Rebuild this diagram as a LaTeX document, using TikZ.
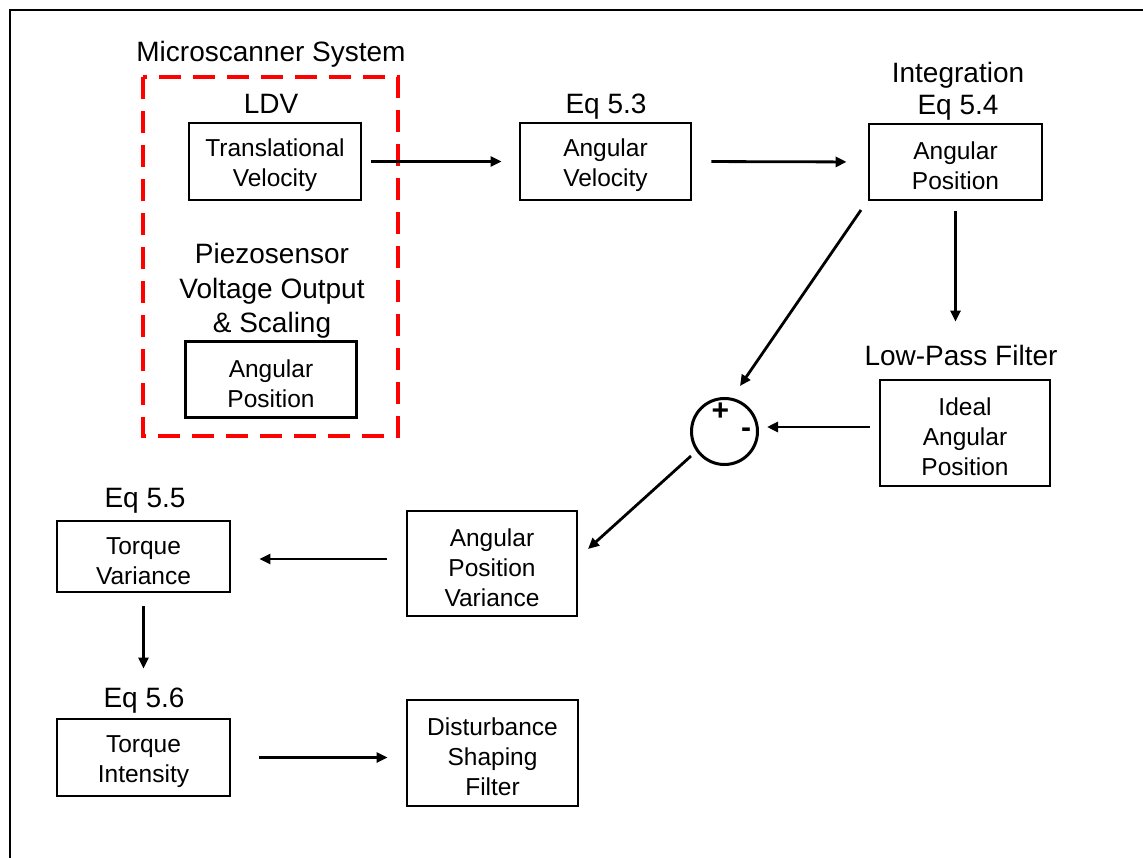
\documentclass[tikz,border=0pt]{standalone}
\usepackage{fontspec}
\setmainfont{Liberation Sans}
\usetikzlibrary{arrows.meta}
\newcommand\bst{\rule{0pt}{26pt}}
\begin{document}
\begin{tikzpicture}[x=1pt,y=-1pt,
  box/.style={draw=black, line width=2.8pt, align=center, inner sep=0pt,
    font=\fontsize{24.5}{30}\selectfont},
  lbl/.style={anchor=base, inner sep=0pt, font=\fontsize{28}{34}\selectfont},
  arr/.style={draw=black, line width=2.8pt, -{Triangle[length=11pt,width=10pt]}},
  sys/.style={draw={rgb,255:red,255;green,0;blue,0}, line width=3.3pt, dash pattern=on 22pt off 12pt}]
\useasboundingbox (0,0) rectangle (1143,858);
% frame
\draw[line width=2.8pt] (10,858) -- (10,10) -- (1143,10);
% system box
\draw[sys] (143,77) rectangle (398,436);
\node[lbl] (msys) at (271,62) {Microscanner System};
\node[lbl] (ldv) at (271,114) {LDV};
\node[lbl] (pz1) at (272,264) {Piezosensor};
\node[lbl] (pz2) at (272,299) {Voltage Output};
\node[lbl] (pz3) at (272,333) {\& Scaling};
\node[lbl] (eq53) at (606,114) {Eq 5.3};
\node[lbl] (int1) at (958,83) {Integration};
\node[lbl] (int2) at (958,115) {Eq 5.4};
\node[lbl] (lpf) at (961,366) {Low-Pass Filter};
\node[lbl] (eq55) at (145,507) {Eq 5.5};
\node[lbl] (eq56) at (144,707) {Eq 5.6};
% boxes
\node[box, minimum width=172pt, minimum height=77pt] (tv) at (275,161.5) {\bst Translational\\Velocity};
\node[box, minimum width=171pt, minimum height=76pt] (ap1) at (271,379.5) {\bst Angular\\Position};
\node[box, minimum width=171pt, minimum height=77pt] (av) at (605.5,161.5) {\bst Angular\\Velocity};
\node[box, minimum width=173pt, minimum height=76pt] (ap2) at (955.5,162) {\bst Angular\\Position};
\node[box, minimum width=170pt, minimum height=106pt] (iap) at (965,433) {\bst Ideal\\Angular\\Position};
\node[box, minimum width=170pt, minimum height=105pt] (apv) at (492,563.5) {\bst Angular\\Position\\Variance};
\node[box, minimum width=173pt, minimum height=71pt] (tvar) at (143.5,556.5) {\bst Torque\\Variance};
\node[box, minimum width=173pt, minimum height=77pt] (tint) at (143.5,757.5) {\bst Torque\\Intensity};
\node[box, minimum width=171pt, minimum height=106pt] (dsf) at (492.5,753) {\bst Disturbance\\Shaping\\Filter};
% summing junction
\node[draw=black, line width=3pt, circle, minimum size=66pt, inner sep=0pt] (sum) at (724.5,431.5) {};
\node[font=\fontsize{30}{30}\bfseries, inner sep=0pt] (plus) at (720.5,412) {+};
\node[font=\fontsize{30}{30}\bfseries, inner sep=0pt] (minus) at (746,433) {-};
% connectors
\coordinate (d1s) at (861,210);
\coordinate (d1e) at (740,386);
\coordinate (d2s) at (691,456);
\coordinate (d2e) at (588,549);
\coordinate (sumE) at (767,427);
\coordinate (yv) at (0,559);
\draw[arr, shorten <=9pt, shorten >=17pt] (tv.east) -- (av.west);
\draw[arr, shorten <=19pt, shorten >=21pt] (av.east) -- (ap2.west);
\draw[arr, shorten <=10pt, shorten >=57pt] (ap2.south) -- (ap2.south |- iap.north);
\draw[arr] (d1s) -- (d1e);
\draw[arr, shorten <=9pt] (iap.west |- sumE) -- (sumE);
\draw[arr] (d2s) -- (d2e);
\draw[arr, shorten <=19pt, shorten >=28pt] (apv.west |- yv) -- (tvar.east |- yv);
\draw[arr, shorten <=13pt, shorten >=49pt] (tvar.south) -- (tvar.south |- tint.north);
\draw[arr, shorten <=28pt, shorten >=18pt] (tint.east) -- (dsf.west |- tint.east);
\end{tikzpicture}
\end{document}
